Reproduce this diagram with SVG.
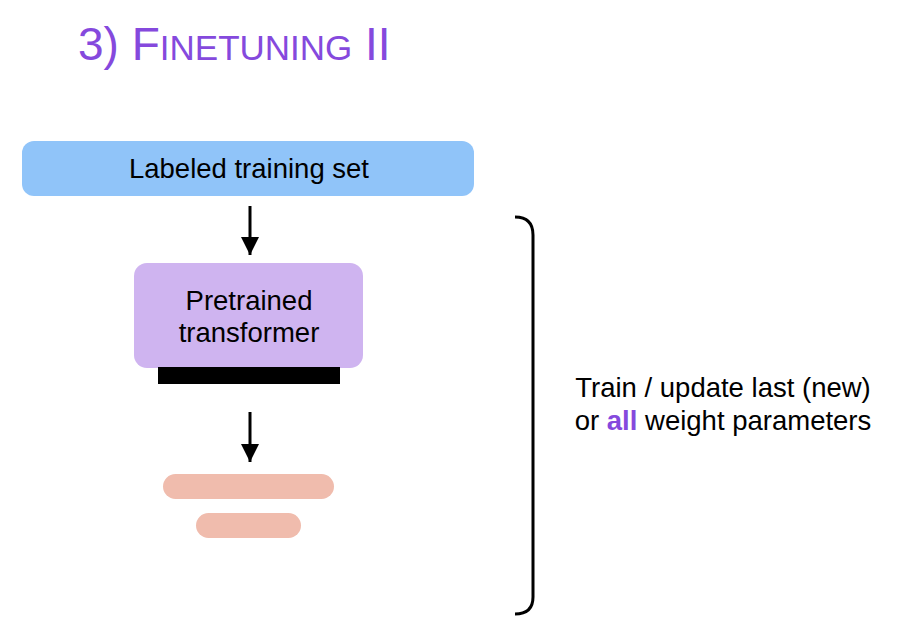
<svg xmlns="http://www.w3.org/2000/svg" width="910" height="638" viewBox="0 0 910 638">
<defs>
<style>
.t{font-family:"Liberation Sans",Arial,sans-serif;font-size:27.5px;fill:#000;text-anchor:middle}
.title{font-family:"Liberation Sans",Arial,sans-serif;fill:#8549dd}
.conn{stroke:#000;stroke-width:3;fill:none}
</style>
<marker id="ah" viewBox="0 0 10 10" refX="10" refY="5" markerWidth="6" markerHeight="6" markerUnits="strokeWidth" orient="auto">
<path d="M0,0 L10,5 L0,10 z" fill="#000"/>
</marker>
</defs>
<rect width="910" height="638" fill="#fff"/>
<text class="title" x="78" y="60" font-size="46">3) F<tspan font-size="35">INETUNING</tspan> II</text>
<g id="training-set">
<rect x="22" y="141" width="452" height="55" rx="12" fill="#90c4f9"/>
<text class="t" x="249" y="178">Labeled training set</text>
</g>
<g id="transformer">
<rect x="134" y="263" width="229" height="105" rx="13" fill="#cfb4f0"/>
<text class="t" x="249" y="310">Pretrained</text>
<text class="t" x="249" y="342">transformer</text>
<rect x="158" y="367" width="182" height="17" fill="#000"/>
</g>
<g id="outputs">
<rect x="163" y="474" width="171" height="25" rx="12.5" fill="#f0bcad"/>
<rect x="196" y="513" width="105" height="25" rx="12.5" fill="#f0bcad"/>
</g>
<g id="connectors">
<line class="conn" x1="250" y1="206" x2="250" y2="255" marker-end="url(#ah)"/>
<line class="conn" x1="250" y1="412" x2="250" y2="462" marker-end="url(#ah)"/>
</g>
<g id="bracket">
<path d="M515,217 Q533,217 533,235 L533,597 Q533,614 515,614" fill="none" stroke="#000" stroke-width="3"/>
</g>
<g id="note">
<text class="t" x="723" y="397">Train / update last (new)</text>
<text class="t" x="723" y="430">or <tspan font-weight="bold" fill="#8549dd">all</tspan> weight parameters</text>
</g>
</svg>
